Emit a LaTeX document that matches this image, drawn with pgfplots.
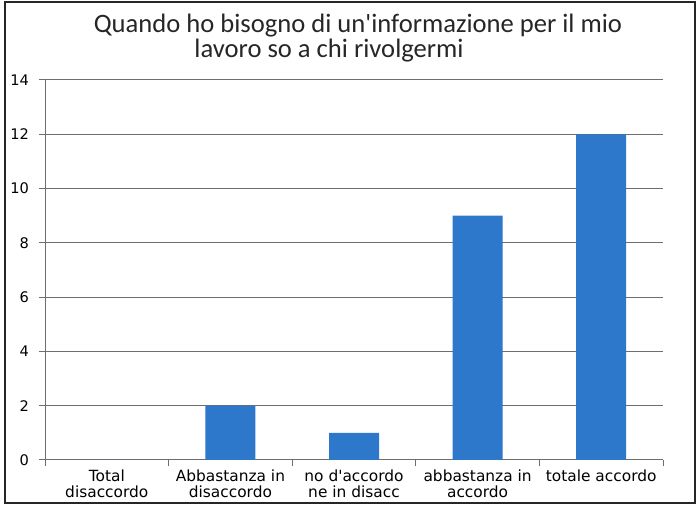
\documentclass[border=0pt]{standalone}
\usepackage{fontspec}
\setmainfont{DejaVu Sans}
\newfontfamily\titlefont{Carlito}
\usepackage{pgfplots}
\pgfplotsset{compat=1.18}
\definecolor{barblue}{RGB}{45,120,202}
\definecolor{gridgray}{RGB}{110,110,110}
\begin{document}
\begin{tikzpicture}
\useasboundingbox (0,0) rectangle (349.5pt,253pt);
\begin{axis}[
  at={(22.5pt,23pt)}, anchor=south west,
  scale only axis, width=309pt, height=190pt,
  xmin=-0.5, xmax=4.5, ymin=0, ymax=14,
  axis x line*=bottom, axis y line*=left,
  axis line style={gridgray, line width=0.5pt},
  ytick={0,2,...,14},
  ymajorgrids, grid style={gridgray, line width=0.5pt},
  xtick={0,1,2,3,4},
  xticklabels={{Total\\disaccordo},{Abbastanza in\\disaccordo},{no d\textquotesingle accordo\\ne in disacc},{abbastanza in\\accordo},{totale accordo}},
  minor xtick={-0.5,0.5,...,4.5},
  tick align=outside,
  major x tick style={draw=none},
  minor tick length=3pt, major tick length=3pt,
  tick style={gridgray, line width=0.5pt},
  xticklabel style={align=center, font=\fontsize{7.7}{7.8}\selectfont, text depth=0pt, yshift=1.5pt},
  yticklabel style={font=\fontsize{7.3}{8}\selectfont, xshift=-1.5pt},
  /pgf/number format/assume math mode=true,
  ybar, bar width=25pt, bar shift=0pt,
]
\addplot[fill=barblue, draw=none] coordinates {(0,0) (1,2) (2,1) (3,9) (4,12)};
\end{axis}
\draw[line width=0.9pt, black!85] (2.5pt,1.5pt) rectangle (347.5pt,252pt);
\node[anchor=base, inner sep=0pt, font=\titlefont\fontsize{13.3}{15}\selectfont, black!85] at (179pt,236.5pt) {Quando ho bisogno di un\textquotesingle informazione per il mio};
\node[anchor=base, inner sep=0pt, font=\titlefont\fontsize{13.3}{15}\selectfont, black!85] at (164.5pt,224pt) {lavoro so a chi rivolgermi};
\end{tikzpicture}
\end{document}
